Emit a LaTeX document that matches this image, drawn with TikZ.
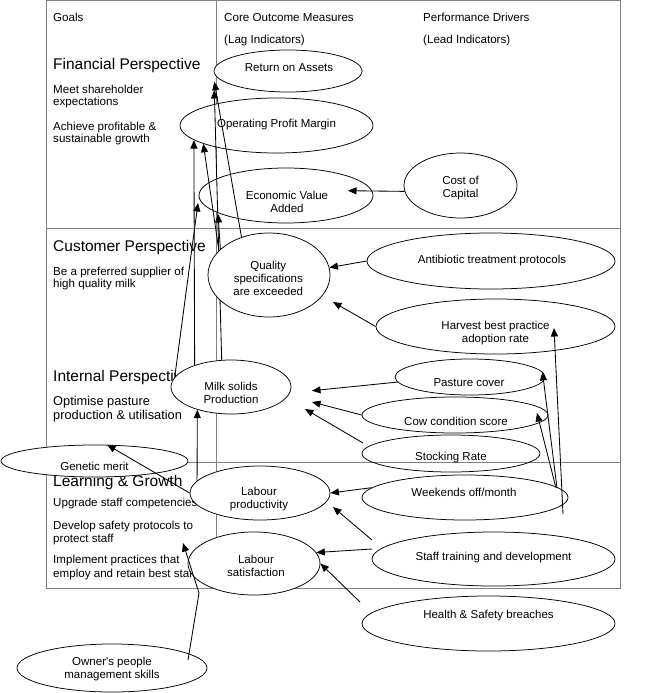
\documentclass[tikz,border=0pt]{standalone}
\usepackage{fontspec}
\setmainfont{Liberation Sans}
\usetikzlibrary{arrows.meta,shapes.geometric}
\definecolor{tabgray}{RGB}{128,128,128}
\begin{document}
\begin{tikzpicture}[x=1pt,y=-1pt,
  tab/.style={draw=tabgray,line width=0.8pt},
  ell/.style={ellipse,draw=black,line width=0.75pt,fill=white,inner sep=0pt},
  lbl/.style={font=\fontsize{11.5}{13}\selectfont,align=center,inner sep=0pt},
  arr/.style={draw=black,line width=0.85pt,-{Triangle[length=8.5pt,width=7pt]}},
  gtxt/.style={font=\fontsize{11.6}{13}\selectfont,anchor=base west,inner sep=0pt},
  gbig/.style={font=\fontsize{15.5}{18}\selectfont,anchor=base west,inner sep=0pt},
  gmid/.style={font=\fontsize{12.8}{14}\selectfont,anchor=base west,inner sep=0pt}]

\path[use as bounding box] (0,0) rectangle (667,693);

% table
\draw[tab] (46,0.5) rectangle (620,588);
\draw[tab] (216.7,0.5) -- (216.7,588);
\draw[tab] (46,228.7) -- (620,228.7);
\draw[tab] (46,462) -- (620,462);

% headers and goals
\node[gtxt] (tGoals) at (53,21.5) {Goals};
\node[gtxt] (tCore) at (224,21.5) {Core Outcome Measures};
\node[gtxt] (tLag) at (224,43.3) {(Lag Indicators)};
\node[gtxt] (tPerf) at (423,21.5) {Performance Drivers};
\node[gtxt] (tLead) at (423,43.3) {(Lead Indicators)};

\node[gbig] (tFin) at (53,70) {Financial Perspective};
\node[gtxt] (tF1a) at (53,93.3) {Meet shareholder};
\node[gtxt] (tF1b) at (53,105.5) {expectations};
\node[gtxt] (tF2a) at (53,130) {Achieve profitable \&};
\node[gtxt] (tF2b) at (53,142.3) {sustainable growth};

\node[gbig] (tCus) at (53,251.7) {Customer Perspective};
\node[gtxt] (tC1a) at (53,275.3) {Be a preferred supplier of};
\node[gtxt] (tC1b) at (53,287.7) {high quality milk};

\node[gbig] (tInt) at (53,381.7) {Internal Perspective};
\node[gmid] (tI1a) at (53,405.5) {Optimise pasture};
\node[gmid] (tI1b) at (53,419.5) {production \& utilisation};

\node[gbig] (tLrn) at (53,486) {Learning \& Growth};
\node[gtxt] (tL1) at (53,506.7) {Upgrade staff competencies};
\node[gtxt] (tL2a) at (53,529.3) {Develop safety protocols to};
\node[gtxt] (tL2b) at (53,542.7) {protect staff};
\node[gtxt] (tL3a) at (53,563.5) {Implement practices that};
\node[gtxt] (tL3b) at (53,577) {employ and retain best staff};

% ellipses
\node[ell,minimum width=148pt,minimum height=42pt,label={[lbl,xshift=1pt,yshift=3pt]center:Return on Assets}] (roa) at (288,71) {};
\node[ell,minimum width=193pt,minimum height=55pt,label={[lbl,yshift=0.5pt]center:Operating Profit Margin}] (opm) at (276.5,125.5) {};
\node[ell,minimum width=174pt,minimum height=55pt,label={[lbl,xshift=1pt,yshift=-6.5pt]center:{Economic Value\\Added}}] (eva) at (286,195.5) {};
\node[ell,minimum width=113pt,minimum height=65pt,label={[lbl,yshift=-2.5pt]center:{Cost of\\Capital}}] (cc) at (460.5,185.5) {};
\node[ell,minimum width=248pt,minimum height=56pt,label={[lbl,xshift=1pt]center:Antibiotic treatment protocols}] (ab) at (491,261) {};
\node[ell,minimum width=239pt,minimum height=55pt,label={[lbl,yshift=-6.5pt]center:{Harvest best practice\\adoption rate}}] (hb) at (495.5,326.5) {};
\node[ell,minimum width=120pt,minimum height=54pt,label={[lbl,yshift=-5.5pt]center:{Milk solids\\Production}}] (ms) at (231,387) {};
\node[ell,minimum width=150pt,minimum height=36pt,label={[lbl,xshift=-1pt,yshift=-5.5pt]center:Pasture cover}] (pc) at (470,377) {};
\node[ell,minimum width=186pt,minimum height=36pt,label={[lbl,xshift=1pt,yshift=-6pt]center:Cow condition score}] (cw) at (455,415) {};
\node[ell,fill=none,minimum width=178pt,minimum height=37pt,label={[lbl,yshift=-4.5pt]center:Stocking Rate}] (sr) at (451,453.5) {};
\node[ell,minimum width=187pt,minimum height=32pt,label={[lbl,yshift=-5.5pt]center:Genetic merit}] (gm) at (94.5,461) {};
\node[ell,minimum width=140pt,minimum height=54pt,label={[lbl,xshift=-1pt,yshift=-6pt]center:{Labour\\productivity}}] (lp) at (260,493) {};
\node[ell,minimum width=132pt,minimum height=63pt,label={[lbl,xshift=2pt,yshift=-2.5pt]center:{Labour\\satisfaction}}] (ls) at (254,563.5) {};
\node[ell,minimum width=206pt,minimum height=45pt,label={[lbl,xshift=-1pt,yshift=4.8pt]center:Weekends off/month}] (wk) at (465,497.5) {};
\node[ell,minimum width=243pt,minimum height=54pt,label={[lbl,yshift=1.3pt]center:Staff training and development}] (st) at (493.5,559) {};
\node[ell,minimum width=253pt,minimum height=55pt,label={[lbl,yshift=7.8pt]center:Health \& Safety breaches}] (hs) at (488.5,623.5) {};
\node[ell,minimum width=190pt,minimum height=48pt,label={[lbl,yshift=-1.5pt]center:{Owner\textquotesingle s people\\management skills}}] (ow) at (112,668) {};

% free ends of connectors
\coordinate (roaA) at (214.3,81.7);
\coordinate (roaB) at (214.3,90);
\coordinate (evaL) at (198,203);
\coordinate (evaM) at (218,214);
\coordinate (evaIn) at (348,190.7);
\coordinate (qHb) at (333,302);
\coordinate (msPc) at (312,390.7);
\coordinate (msCw) at (312,402);
\coordinate (msSr) at (305,409);
\coordinate (srOut) at (363,443);
\coordinate (stA) at (372,540);
\coordinate (stB) at (372,549);
\coordinate (lpSt) at (333,507);
\coordinate (hsOut) at (360,602);
\coordinate (wkA) at (563,514);
\coordinate (wkB) at (557,488);
\coordinate (wkC) at (556,488);
\coordinate (hbIn) at (554,328);
\coordinate (cwIn) at (537,413);
\coordinate (owOut) at (188,660);
\coordinate (owBend) at (199,593);
\coordinate (owTip) at (183,543);

% connector hidden behind the quality ellipse
\draw[arr] (ms.109) -- (roaB);

\node[ell,minimum width=122pt,minimum height=84pt,label={[lbl,xshift=-0.7pt,yshift=-3pt]center:{Quality\\specifications\\are exceeded}}] (q) at (269,275) {};

% connectors
\draw[arr] (q.126) -- (roaA);
\draw[arr] (ms.149) -- (opm.190);
\draw[arr] (q.154) -- (opm.194);
\draw[arr] (ms.170) -- (evaL);
\draw[arr] (q.152) -- (evaM);
\draw[arr] (cc.186) -- (evaIn);
\draw[arr] (ab.west) -- (q.7);
\draw[arr] (hb.west) -- (qHb);
\draw[arr] (pc.184) -- (msPc);
\draw[arr] (cw.west) -- (msCw);
\draw[arr] (srOut) -- (msSr);
\draw[arr] (lp.169) -- (ms.214);
\draw[arr] (lp.west) -- (gm.52);
\draw[arr] (wk.174) -- (lp.east);
\draw[arr] (stA) -- (lpSt);
\draw[arr] (stB) -- (ls.10);
\draw[arr] (hsOut) -- (ls.east);
\draw[arr] (wkA) -- (hbIn);
\draw[arr] (wkB) -- (pc.4);
\draw[arr] (wkC) -- (cwIn);
\draw[arr] (owOut) -- (owBend) -- (owTip);
\end{tikzpicture}
\end{document}
